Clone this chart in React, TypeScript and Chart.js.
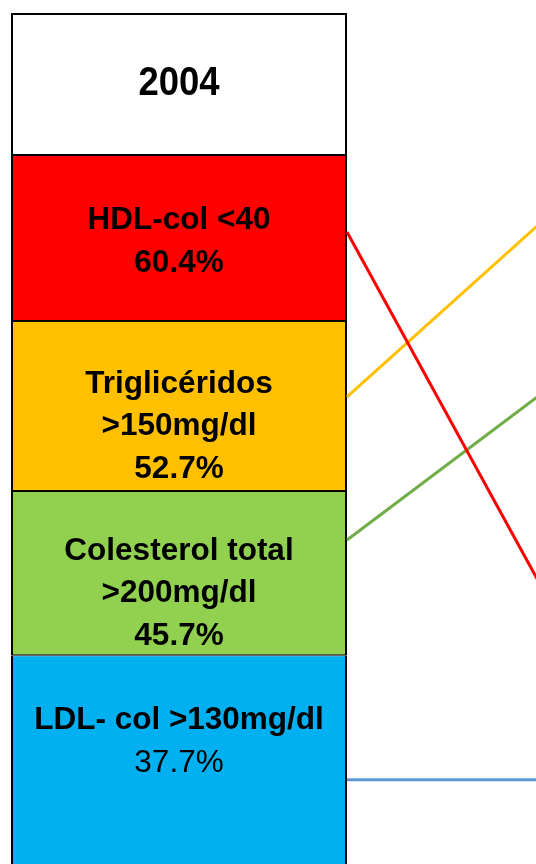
import React, { useEffect, useRef } from "react";
import { Chart, registerables } from "chart.js";

Chart.register(...registerables);

// ---- data ----
const yearLabel = "2004";
const factorLines: string[][] = [
  ["HDL-col <40"],
  ["Triglicéridos", ">150mg/dl"],
  ["Colesterol total", ">200mg/dl"],
  ["LDL- col >130mg/dl"],
];
const prevalence = [60.4, 52.7, 45.7, 37.7];
// blank space (in lines) before / after the text in each box (as in the original slide)
const leadBlank = [0, 0, 0.77, 0.77, 0];
const trailBlank = [0, 0, 0, 0, 2.1];
// row edges of the 2004 column (header, then one row per factor), in row units
const rowEdges = [0, 0.855, 1.855, 2.88, 3.87, 5.4];
// connector lines: position in 2004 column (x=1) and in next column (x=2)
const connectorStart = [1.319, 2.313, 3.175, 4.62];
const connectorEnd = [5.014, 0.493, 1.654, 4.62];

// ---- styles ----
const rowColors = ["#FFFFFF", "#FF0000", "#FFC000", "#92D050", "#00B0F0"];
const lineColors = ["#FF0000", "#FFC000", "#70AD47", "#5B9BD5"];
const percentBold = [true, true, true, false];
const FONT = "'Liberation Sans', Arial, sans-serif";

export default function App() {
  const ref = useRef<HTMLCanvasElement>(null);

  useEffect(() => {
    const canvas = ref.current;
    if (!canvas) return;

    const rowTexts: { text: string; bold: boolean }[][] = [
      [{ text: yearLabel, bold: true }],
      ...factorLines.map((lines, i) => [
        ...lines.map((t) => ({ text: t, bold: true })),
        { text: prevalence[i].toFixed(1) + "%", bold: percentBold[i] },
      ]),
    ];

    const barData = rowColors.map((_, i) => ({
      x: 0.5,
      y: [rowEdges[i], rowEdges[i + 1]],
    }));

    const borderWidths = rowColors.map((_, i) =>
      i === 0
        ? { top: 2, bottom: 1, left: 2, right: 2 }
        : { top: 1, bottom: 1, left: 2, right: 2 }
    );

    const textPlugin = {
      id: "rowText",
      afterDatasetsDraw(chart: any) {
        const meta = chart.getDatasetMeta(chart.data.datasets.length - 1);
        const ctx = chart.ctx;
        ctx.save();
        ctx.fillStyle = "#000";
        ctx.textAlign = "center";
        ctx.textBaseline = "middle";
        ctx.beginPath();
        ctx.rect(
          chart.chartArea.left,
          chart.chartArea.top,
          chart.chartArea.right - chart.chartArea.left,
          chart.chartArea.bottom - chart.chartArea.top
        );
        ctx.clip();
        meta.data.forEach((el: any, i: number) => {
          const top = Math.min(el.y, el.base);
          const bottom = Math.max(el.y, el.base);
          const lines = rowTexts[i];
          const isHeader = i === 0;
          const size = isHeader ? 36.5 : 31.5;
          const stretch = isHeader ? 1.09 : 1;
          const lh = 42.5;
          const n = lines.length + leadBlank[i] + trailBlank[i];
          const center = (top + bottom) / 2 + (isHeader ? 0 : 4);
          const first = center - ((n - 1) * lh) / 2 + leadBlank[i] * lh;
          lines.forEach((ln, j) => {
            ctx.save();
            ctx.font = `${ln.bold ? "bold " : ""}${size}px ${FONT}`;
            ctx.translate(el.x, first + j * lh);
            ctx.scale(1, stretch);
            ctx.fillText(ln.text, 0, 0);
            ctx.restore();
          });
        });
        ctx.restore();
      },
    };

    const lineDatasets = connectorStart.map((s, i) => ({
      type: "line" as const,
      data: [
        { x: 1, y: s },
        { x: 2, y: connectorEnd[i] },
      ],
      borderColor: lineColors[i],
      borderWidth: 3,
      pointRadius: 0,
      fill: false,
      tension: 0,
    }));

    const chart = new Chart(canvas, {
      type: "bar",
      data: {
        datasets: [
          ...lineDatasets,
          {
            type: "bar" as const,
            data: barData as any,
            backgroundColor: rowColors,
            borderColor: "#000000",
            borderWidth: borderWidths as any,
            borderSkipped: false,
            barThickness: 336,
            inflateAmount: 0,
          },
        ] as any,
      },
      options: {
        animation: false,
        responsive: false,
        events: [],
        layout: { padding: { left: 11, top: 13, right: 0, bottom: 0 } },
        plugins: {
          legend: { display: false },
          tooltip: { enabled: false },
          title: { display: false },
        },
        scales: {
          x: {
            type: "linear",
            min: 0,
            max: 1.5625,
            offset: false,
            grid: { offset: false },
            display: false,
          },
          y: { type: "linear", min: 0, max: 5.127, reverse: true, display: false },
        },
      },
      plugins: [textPlugin],
    });

    return () => chart.destroy();
  }, []);

  return (
    <div style={{ position: "absolute", left: 0, top: 0, width: 536, height: 864 }}>
      <canvas ref={ref} width={536} height={864} style={{ display: "block" }} />
    </div>
  );
}
